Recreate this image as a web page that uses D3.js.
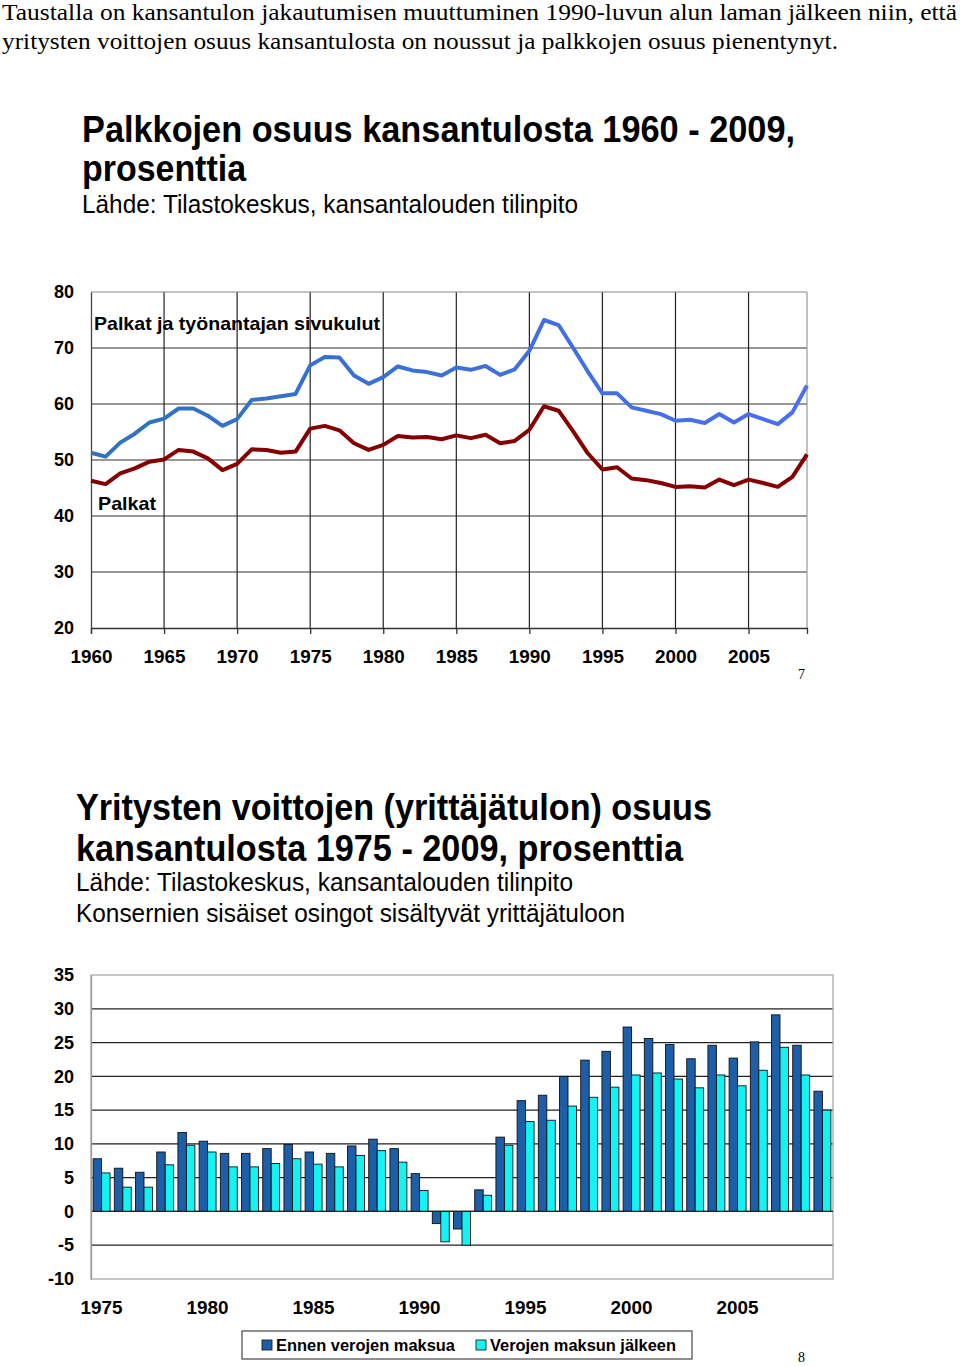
<!DOCTYPE html>
<html>
<head>
<meta charset="utf-8">
<script src="https://cdn.jsdelivr.net/npm/d3@7"></script>
<style>
  html, body { margin: 0; padding: 0; background: #fff; }
  svg { display: block; }
</style>
</head>
<body>
<svg id="chart" width="960" height="1367"></svg>
<script>
// ---------- DATA ----------
const lineYears = [1960,1961,1962,1963,1964,1965,1966,1967,1968,1969,
  1970,1971,1972,1973,1974,1975,1976,1977,1978,1979,
  1980,1981,1982,1983,1984,1985,1986,1987,1988,1989,
  1990,1991,1992,1993,1994,1995,1996,1997,1998,1999,
  2000,2001,2002,2003,2004,2005,2006,2007,2008,2009];
const palkatSivukulut = [51.3,50.6,53.1,54.7,56.7,57.4,59.2,59.2,57.9,56.1,
  57.3,60.7,61.0,61.4,61.8,66.9,68.4,68.3,65.1,63.6,
  64.8,66.7,66.0,65.7,65.1,66.5,66.1,66.8,65.2,66.2,
  69.5,75.0,74.1,70.0,65.8,61.9,61.9,59.4,58.8,58.2,
  57.0,57.2,56.6,58.2,56.7,58.2,57.3,56.4,58.5,63.3];
const palkat = [46.3,45.7,47.6,48.5,49.7,50.1,51.8,51.5,50.3,48.2,
  49.3,51.9,51.8,51.3,51.5,55.6,56.1,55.3,53.0,51.8,
  52.7,54.3,54.0,54.1,53.7,54.4,53.9,54.5,53.0,53.4,
  55.4,59.6,58.8,55.1,51.2,48.3,48.7,46.7,46.4,45.9,
  45.2,45.3,45.1,46.5,45.5,46.5,45.9,45.2,47.0,51.0];
const lineYTicks = [20,30,40,50,60,70,80];
const lineXTicks = [1960,1965,1970,1975,1980,1985,1990,1995,2000,2005];

const barYears = [1975,1976,1977,1978,1979,1980,1981,1982,1983,1984,
  1985,1986,1987,1988,1989,1990,1991,1992,1993,1994,
  1995,1996,1997,1998,1999,2000,2001,2002,2003,2004,
  2005,2006,2007,2008,2009];
const ennenVeroja = [7.8,6.4,5.8,8.8,11.7,10.4,8.6,8.6,9.3,9.9,
  8.8,8.6,9.7,10.7,9.3,5.6,-1.8,-2.6,3.2,11.0,
  16.4,17.2,20.0,22.4,23.7,27.3,25.6,24.7,22.6,24.6,
  22.7,25.1,29.1,24.6,17.8];
const verojenJalkeen = [5.7,3.6,3.6,6.9,9.8,8.8,6.6,6.6,7.1,7.8,
  7.0,6.6,8.3,9.0,7.3,3.1,-4.5,-5.0,2.4,9.8,
  13.3,13.5,15.6,16.9,18.4,20.2,20.5,19.6,18.3,20.2,
  18.6,20.9,24.3,20.2,15.0];
const barYTicks = [-10,-5,0,5,10,15,20,25,30,35];
const barXTicks = [1975,1980,1985,1990,1995,2000,2005];
const barSeries = ["Ennen verojen maksua","Verojen maksun jälkeen"];

// ---------- DRAW ----------
const svg = d3.select("#chart");
svg.append("rect").attr("width",960).attr("height",1367).attr("fill","#fff");
const SANS = "'Liberation Sans', Arial, sans-serif";
const SERIF = "'Liberation Serif', 'Times New Roman', serif";

function txt(g, s, x, y, size, weight, family, len, anchor) {
  const t = g.append("text").attr("x", x).attr("y", y).text(s)
    .attr("font-family", family).attr("font-size", size)
    .attr("font-weight", weight).attr("fill", "#000");
  if (anchor) t.attr("text-anchor", anchor);
  if (len) t.attr("textLength", len).attr("lengthAdjust", "spacingAndGlyphs");
  return t;
}

// header
txt(svg, "Taustalla on kansantulon jakautumisen muuttuminen 1990-luvun alun laman jälkeen niin, että", 2, 20, 23, "normal", SERIF, 955);
txt(svg, "yritysten voittojen osuus kansantulosta on noussut ja palkkojen osuus pienentynyt.", 2, 49, 23, "normal", SERIF, 836);

// ===== Chart 1 =====
const c1 = svg.append("g");
txt(c1, "Palkkojen osuus kansantulosta 1960 - 2009,", 82, 142, 36, "bold", SANS, 713);
txt(c1, "prosenttia", 82, 181, 36, "bold", SANS, 164);
txt(c1, "Lähde: Tilastokeskus, kansantalouden tilinpito", 82, 213, 25, "normal", SANS, 496);

const x1 = d3.scaleLinear().domain([1960, 2009]).range([91, 807]);
const y1 = d3.scaleLinear().domain([20, 80]).range([628, 292]);

// horizontal grid
c1.append("g").selectAll("line").data(lineYTicks.filter(d => d > 20 && d < 80)).join("line")
  .attr("x1", x1(1960)).attr("x2", x1(2009))
  .attr("y1", d => y1(d)).attr("y2", d => y1(d))
  .attr("stroke", "#333").attr("stroke-width", 1.2);
// vertical grid
c1.append("g").selectAll("line").data(lineXTicks.filter(d => d > 1960)).join("line")
  .attr("x1", d => x1(d)).attr("x2", d => x1(d))
  .attr("y1", y1(80)).attr("y2", y1(20))
  .attr("stroke", "#222").attr("stroke-width", 1.2);
// border top/right
c1.append("line").attr("x1", x1(1960)).attr("x2", x1(2009)).attr("y1", y1(80)).attr("y2", y1(80)).attr("stroke", "#888").attr("stroke-width", 1.2);
c1.append("line").attr("x1", x1(2009)).attr("x2", x1(2009)).attr("y1", y1(80)).attr("y2", y1(20)).attr("stroke", "#999").attr("stroke-width", 1.2);

// axes
const ax1 = c1.append("g").attr("transform", `translate(0,${y1(20)})`)
  .call(d3.axisBottom(x1).tickValues(lineXTicks).tickFormat(d3.format("d")).tickSize(6).tickPadding(16));
ax1.select(".domain").attr("stroke", "#333").attr("stroke-width", 1.3);
ax1.selectAll(".tick line").attr("stroke", "#333").attr("stroke-width", 1.3);
ax1.selectAll("text").attr("font-family", SANS).attr("font-size", 19).attr("font-weight", "bold").attr("fill", "#000")
  .attr("textLength", 42).attr("lengthAdjust", "spacingAndGlyphs");
const ay1 = c1.append("g").attr("transform", `translate(${x1(1960)},0)`)
  .call(d3.axisLeft(y1).tickValues(lineYTicks).tickSize(0).tickPadding(17));
ay1.select(".domain").attr("stroke", "#444").attr("stroke-width", 1.3);
ay1.selectAll("text").attr("font-family", SANS).attr("font-size", 18).attr("font-weight", "bold").attr("fill", "#000");

// gradient for blue line
const defs = svg.append("defs");
const grad = defs.append("linearGradient").attr("id", "blueGrad")
  .attr("gradientUnits", "userSpaceOnUse")
  .attr("x1", x1(1960)).attr("x2", x1(2009)).attr("y1", 0).attr("y2", 0);
grad.append("stop").attr("offset", "0%").attr("stop-color", "#2e74b8");
grad.append("stop").attr("offset", "45%").attr("stop-color", "#3a70d8");
grad.append("stop").attr("offset", "100%").attr("stop-color", "#4a6ff0");

const line1 = d3.line().x((d, i) => x1(lineYears[i])).y(d => y1(d));
c1.append("path").datum(palkatSivukulut).attr("d", line1)
  .attr("fill", "none").attr("stroke", "url(#blueGrad)").attr("stroke-width", 4).attr("stroke-linejoin", "round");
c1.append("path").datum(palkat).attr("d", line1)
  .attr("fill", "none").attr("stroke", "#850000").attr("stroke-width", 4).attr("stroke-linejoin", "round");

txt(c1, "Palkat ja työnantajan sivukulut", 94, 330, 18.5, "bold", SANS, 286);
txt(c1, "Palkat", 98, 510, 19, "bold", SANS, 58);
txt(c1, "7", 798, 679, 14, "normal", SERIF);

// ===== Chart 2 =====
const c2 = svg.append("g");
txt(c2, "Yritysten voittojen (yrittäjätulon) osuus", 76, 820, 36, "bold", SANS, 636);
txt(c2, "kansantulosta 1975 - 2009, prosenttia", 76, 861, 36, "bold", SANS, 607);
txt(c2, "Lähde: Tilastokeskus, kansantalouden tilinpito", 76, 891, 25, "normal", SANS, 497);
txt(c2, "Konsernien sisäiset osingot sisältyvät yrittäjätuloon", 76, 922, 25, "normal", SANS, 549);

const x2 = d3.scaleBand().domain(barYears).range([91, 833]).paddingInner(0.2).paddingOuter(0.1);
const x2s = d3.scaleBand().domain(barSeries).range([0, x2.bandwidth()]);
const y2 = d3.scaleLinear().domain([-10, 35]).range([1279, 975]);
const barColor = d3.scaleOrdinal().domain(barSeries).range(["#1c5fa8", "#14f2f2"]);

// grid
c2.append("g").selectAll("line").data(barYTicks.filter(d => d > -10 && d < 35)).join("line")
  .attr("x1", 91).attr("x2", 833)
  .attr("y1", d => y2(d)).attr("y2", d => y2(d))
  .attr("stroke", "#222").attr("stroke-width", 1.2);
// border
c2.append("rect").attr("x", 91).attr("y", y2(35)).attr("width", 833 - 91).attr("height", y2(-10) - y2(35))
  .attr("fill", "none").attr("stroke", "#aaa").attr("stroke-width", 1.3);

const rows = barYears.map((yr, i) => ({ year: yr, vals: [ennenVeroja[i], verojenJalkeen[i]] }));
c2.append("g").selectAll("g").data(rows).join("g")
  .attr("transform", d => `translate(${x2(d.year)},0)`)
  .selectAll("rect").data(d => d.vals.map((v, k) => ({ key: barSeries[k], v }))).join("rect")
  .attr("x", d => x2s(d.key)).attr("width", x2s.bandwidth())
  .attr("y", d => y2(Math.max(0, d.v))).attr("height", d => Math.abs(y2(d.v) - y2(0)))
  .attr("fill", d => barColor(d.key)).attr("stroke", "#111").attr("stroke-width", 0.9);

// zero line over bars
c2.append("line").attr("x1", 91).attr("x2", 833).attr("y1", y2(0)).attr("y2", y2(0)).attr("stroke", "#222").attr("stroke-width", 1.2);

const ax2 = c2.append("g").attr("transform", `translate(0,${y2(-10)})`)
  .call(d3.axisBottom(x2).tickValues(barXTicks).tickSize(0).tickPadding(22));
ax2.select(".domain").remove();
ax2.selectAll("text").attr("font-family", SANS).attr("font-size", 19).attr("font-weight", "bold").attr("fill", "#000")
  .attr("textLength", 42).attr("lengthAdjust", "spacingAndGlyphs");
const ay2 = c2.append("g").attr("transform", `translate(91,0)`)
  .call(d3.axisLeft(y2).tickValues(barYTicks).tickFormat(d => String(d)).tickSize(0).tickPadding(17));
ay2.select(".domain").attr("stroke", "#999").attr("stroke-width", 1.3);
ay2.selectAll("text").attr("font-family", SANS).attr("font-size", 18).attr("font-weight", "bold").attr("fill", "#000");

// legend
const lg = c2.append("g");
lg.append("rect").attr("x", 242).attr("y", 1331).attr("width", 450).attr("height", 28)
  .attr("fill", "#fff").attr("stroke", "#555").attr("stroke-width", 1.3);
const lgX = [262, 476];
const lgLen = [179, 186];
barSeries.forEach((s, k) => {
  lg.append("rect").attr("x", lgX[k]).attr("y", 1340).attr("width", 10).attr("height", 10)
    .attr("fill", barColor(s)).attr("stroke", "#222").attr("stroke-width", 0.9);
  txt(lg, s, lgX[k] + 14, 1351, 16.5, "bold", SANS, lgLen[k]);
});
txt(c2, "8", 798, 1362, 14, "normal", SERIF);
</script>
</body>
</html>
